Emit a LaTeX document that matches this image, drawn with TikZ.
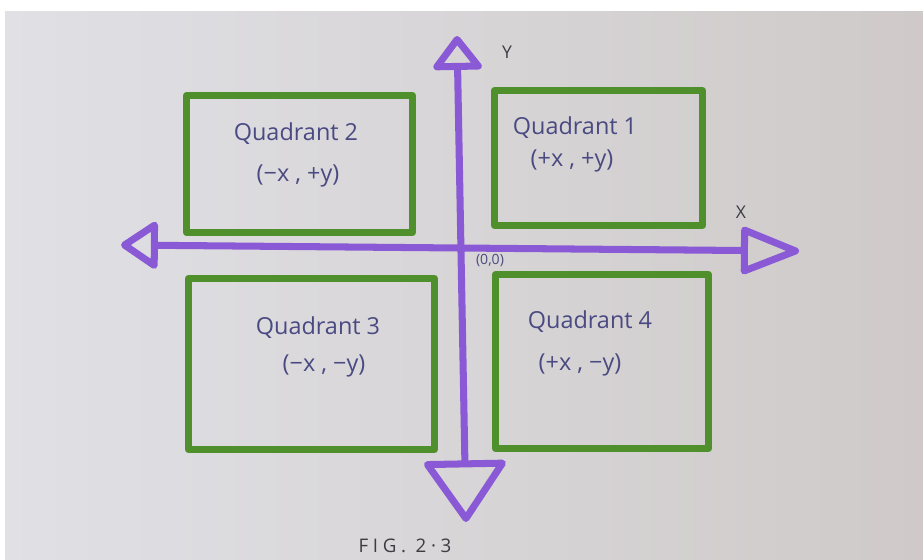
\documentclass[tikz,border=0pt]{standalone}
\usepackage{fontspec}
\setmainfont{Open Sans}
\usetikzlibrary{arrows.meta}
\definecolor{paperL}{HTML}{E0E0E5}
\definecolor{paperR}{HTML}{CFCAC9}
\definecolor{boxgreen}{HTML}{4F8F2C}
\definecolor{axispurple}{HTML}{8A5AD6}
\definecolor{ink}{HTML}{4A4A82}
\definecolor{pencil}{HTML}{3C3C44}
\tikzset{
  qbox/.style={draw=boxgreen, line width=6pt, line join=round, inner sep=0pt},
  qtext/.style={text=ink, font=\fontsize{20}{23}\selectfont, inner sep=0pt},
  axis/.style={draw=axispurple, line width=6pt, line cap=round, line join=round},
  axlabel/.style={text=pencil, font=\fontsize{15}{17}\selectfont, inner sep=0pt}
}
\begin{document}
\begin{tikzpicture}[x=0.03cm, y=-0.03cm]
  \useasboundingbox (0,0) rectangle (923,560);
  \fill[white] (0,0) rectangle (923,560);
  \shade[left color=paperL, right color=paperR] (5,11) rectangle (923,560);

  % quadrant boxes
  \node[qbox, minimum width=6.78cm, minimum height=4.11cm] (q2) at (299.5,164) {};
  \node[qbox, minimum width=6.24cm, minimum height=4.05cm] (q1) at (598.5,158) {};
  \node[qbox, minimum width=7.38cm, minimum height=5.13cm] (q3) at (311.5,364) {};
  \node[qbox, minimum width=6.39cm, minimum height=5.22cm] (q4) at (602,361.5) {};

  % texts
  \node[qtext] (t2a) at (296,134) {Quadrant 2};
  \node[qtext] (t2b) at (298,176) {(−x , +y)};
  \node[qtext] (t1a) at (575,128) {Quadrant 1};
  \node[qtext] (t1b) at (572,161) {(+x , +y)};
  \node[qtext] (t3a) at (318,328) {Quadrant 3};
  \node[qtext] (t3b) at (324,366) {(−x , −y)};
  \node[qtext] (t4a) at (590,322) {Quadrant 4};
  \node[qtext] (t4b) at (580,365) {(+x , −y)};

  % axes
  \coordinate (xl) at (121,245);
  \coordinate (xr) at (799,251);
  \coordinate (yt) at (457,36);
  \coordinate (yb) at (466,522);
  \draw[axis, {Triangle[open, round, length=34pt, width=44pt]}-{Triangle[open, round, length=55pt, width=42pt]}] (xl) -- (xr);
  \draw[axis, {Triangle[open, round, length=55pt, width=74pt]}-{Triangle[open, round, length=31pt, width=46pt]}] (yb) -- (yt);

  % labels
  \node[axlabel] (ly) at (507,52) {Y};
  \node[axlabel] (lx) at (741,212) {X};
  \node[text=ink, font=\fontsize{12}{14}\selectfont, inner sep=0pt] (o) at (490,261) {(0,0)};
  \node[text=pencil, font=\fontsize{16}{18}\selectfont\addfontfeature{LetterSpace=25}, inner sep=0pt] (fig) at (405,546) {FIG. 2·3};
\end{tikzpicture}
\end{document}
